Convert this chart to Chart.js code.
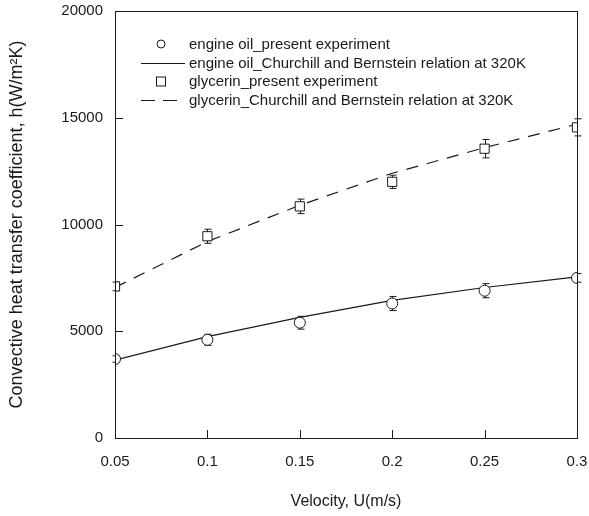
<!DOCTYPE html>
<html>
<head>
<meta charset="utf-8">
<script src="https://cdn.jsdelivr.net/npm/chart.js@4/dist/chart.umd.min.js"></script>
<style>
  body { margin: 0; background: #fff; }
</style>
</head>
<body>
<canvas id="heat-chart" width="589" height="516"></canvas>
<script>
const velocity = [0.05, 0.1, 0.15, 0.2, 0.25, 0.3];
const oilExperiment = [3700, 4600, 5400, 6300, 6900, 7500];
const oilError = [150, 260, 300, 330, 330, 200];
const oilRelation = [3650, 4750, 5650, 6450, 7050, 7550];
const glycerinExperiment = [7100, 9450, 10850, 12000, 13550, 14550];
const glycerinError = [200, 330, 340, 310, 430, 400];
const glycerinRelation = [7050, 9200, 10900, 12400, 13600, 14700];
const legendLabels = [
  "engine oil_present experiment",
  "engine oil_Churchill and Bernstein relation at 320K",
  "glycerin_present experiment",
  "glycerin_Churchill and Bernstein relation at 320K",
];

const FONT = "'Liberation Sans', Arial, sans-serif";
const INK = "#1a1a1a";

const toPoints = (ys) => ys.map((y, i) => ({ x: velocity[i], y: y }));

// error bars go under the markers
const errorBars = {
  id: "errorBars",
  beforeDatasetsDraw(chart) {
    const ctx = chart.ctx;
    const xs = chart.scales.x;
    const ys = chart.scales.y;
    ctx.save();
    ctx.strokeStyle = INK;
    ctx.lineWidth = 1;
    chart.data.datasets.forEach((ds) => {
      if (!ds.errors) return;
      ds.data.forEach((p, i) => {
        const px = Math.round(xs.getPixelForValue(p.x)) + 0.5;
        const top = ys.getPixelForValue(p.y + ds.errors[i]);
        const bot = ys.getPixelForValue(p.y - ds.errors[i]);
        ctx.beginPath();
        ctx.moveTo(px, top);
        ctx.lineTo(px, bot);
        ctx.moveTo(px - 3, top);
        ctx.lineTo(px + 4, top);
        ctx.moveTo(px - 3, bot);
        ctx.lineTo(px + 4, bot);
        ctx.stroke();
      });
    });
    ctx.restore();
  },
};

// full box around the plot plus inward tick marks on left and bottom
const frame = {
  id: "frame",
  afterDraw(chart) {
    const ctx = chart.ctx;
    const a = chart.chartArea;
    ctx.save();
    ctx.strokeStyle = INK;
    ctx.lineWidth = 1;
    ctx.strokeRect(Math.round(a.left) + 0.5, Math.round(a.top) + 0.5,
      Math.round(a.right - a.left), Math.round(a.bottom - a.top));
    ctx.beginPath();
    chart.scales.y.ticks.forEach((t) => {
      const py = Math.round(chart.scales.y.getPixelForValue(t.value)) + 0.5;
      ctx.moveTo(a.left, py);
      ctx.lineTo(a.left + 8, py);
    });
    chart.scales.x.ticks.forEach((t) => {
      const px = Math.round(chart.scales.x.getPixelForValue(t.value)) + 0.5;
      ctx.moveTo(px, a.bottom);
      ctx.lineTo(px, a.bottom - 8);
    });
    ctx.stroke();
    ctx.restore();
  },
};

const legendBox = {
  id: "legendBox",
  afterDraw(chart) {
    const ctx = chart.ctx;
    ctx.save();
    ctx.font = "15px " + FONT;
    ctx.textBaseline = "middle";
    ctx.fillStyle = INK;
    ctx.strokeStyle = INK;
    ctx.lineWidth = 1;
    const rowY = [44, 63, 81, 100];
    const textX = 189;
    const markX = 161;
    chart.data.datasets.forEach((ds, i) => {
      const y = rowY[i];
      ctx.setLineDash([]);
      if (ds.showLine) {
        ctx.setLineDash(ds.borderDash ? [14, 8] : []);
        ctx.beginPath();
        ctx.moveTo(141, y + 0.5);
        ctx.lineTo(185, y + 0.5);
        ctx.stroke();
        ctx.setLineDash([]);
      } else if (ds.pointStyle === "rect") {
        ctx.strokeRect(markX - 4.5, y - 4, 9, 9);
      } else {
        ctx.beginPath();
        ctx.arc(markX, y, 4, 0, Math.PI * 2);
        ctx.stroke();
      }
      ctx.fillText(legendLabels[i], textX, y + 1);
    });
    ctx.restore();
  },
};

new Chart(document.getElementById("heat-chart"), {
  type: "scatter",
  data: {
    datasets: [
      {
        label: legendLabels[0],
        data: toPoints(oilExperiment),
        errors: oilError,
        pointStyle: "circle",
        pointRadius: 5.5,
        pointBackgroundColor: "#fff",
        pointBorderColor: INK,
        pointBorderWidth: 1,
        showLine: false,
        order: 0,
      },
      {
        label: legendLabels[1],
        data: toPoints(oilRelation),
        showLine: true,
        borderColor: INK,
        borderWidth: 1.2,
        pointRadius: 0,
        order: 2,
      },
      {
        label: legendLabels[2],
        data: toPoints(glycerinExperiment),
        errors: glycerinError,
        pointStyle: "rect",
        pointRadius: 6.5,
        pointBackgroundColor: "#fff",
        pointBorderColor: INK,
        pointBorderWidth: 1,
        showLine: false,
        order: 0,
      },
      {
        label: legendLabels[3],
        data: toPoints(glycerinRelation),
        showLine: true,
        borderColor: INK,
        borderWidth: 1.2,
        borderDash: [12, 9],
        pointRadius: 0,
        order: 2,
      },
    ],
  },
  options: {
    responsive: false,
    animation: false,
    layout: { padding: { top: 11, right: 12, left: 0, bottom: 0 } },
    plugins: {
      legend: { display: false },
      tooltip: { enabled: false },
    },
    scales: {
      x: {
        type: "linear",
        min: 0.05,
        max: 0.3,
        grid: { display: false, drawTicks: false },
        border: { display: false },
        ticks: {
          stepSize: 0.05,
          padding: 15,
          color: INK,
          font: { family: FONT, size: 15 },
          callback: (v) => String(parseFloat(v.toFixed(2))),
        },
        title: {
          display: true,
          text: "Velocity, U(m/s)",
          color: INK,
          font: { family: FONT, size: 16 },
          padding: { top: 0, bottom: 5 },
        },
        afterFit: (scale) => {
          scale.height = 78;
          scale.paddingLeft = 0;
          scale.paddingRight = 0;
        },
      },
      y: {
        min: 0,
        max: 20000,
        grid: { display: false, drawTicks: false },
        border: { display: false },
        ticks: {
          stepSize: 5000,
          padding: 12,
          color: INK,
          font: { family: FONT, size: 15 },
          callback: (v) => String(v),
        },
        title: {
          display: true,
          text: "Convective heat transfer coefficient, h(W/m²K)",
          color: INK,
          font: { family: FONT, size: 18 },
          padding: { top: 6, bottom: 0 },
        },
        afterFit: (scale) => {
          scale.width = 115;
          scale.paddingTop = 0;
          scale.paddingBottom = 0;
        },
      },
    },
  },
  plugins: [errorBars, frame, legendBox],
});
</script>
</body>
</html>
